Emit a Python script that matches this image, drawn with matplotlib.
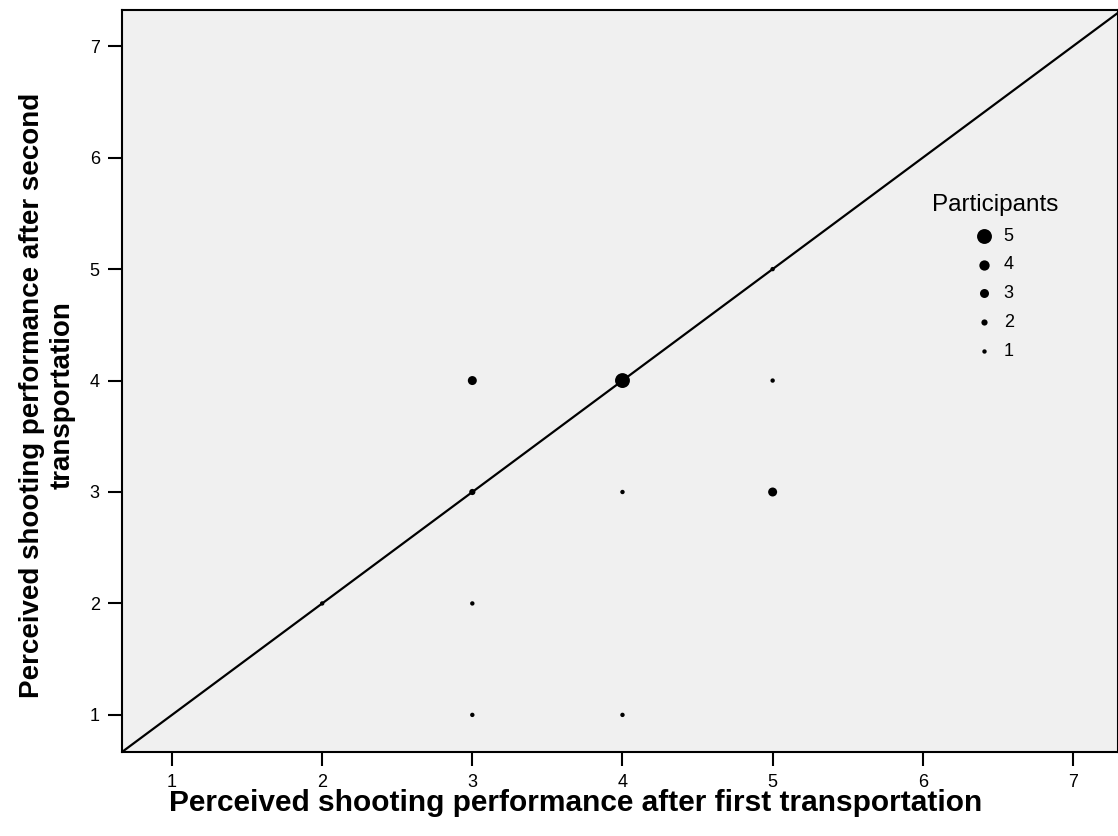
import matplotlib
matplotlib.use('Agg')
import matplotlib.pyplot as plt

plt.rcParams['font.family'] = ['Liberation Sans', 'DejaVu Sans']

# ratings after first / second transportation and number of participants at each
first = [2, 3, 3, 3, 3, 4, 4, 4, 5, 5, 5]
second = [2, 1, 2, 3, 4, 1, 3, 4, 3, 4, 5]
counts = [1, 1, 1, 2, 3, 1, 1, 5, 3, 1, 1]
legend_counts = [5, 4, 3, 2, 1]
ticks = [1, 2, 3, 4, 5, 6, 7]

xlabel = 'Perceived shooting performance after first transportation'
ylabel = 'Perceived shooting performance after second\ntransportation'

area = {1: 10, 2: 20, 3: 42, 4: 55, 5: 115}  # marker area per participant count

fig = plt.figure(figsize=(11.18, 8.36), dpi=100)
ax = fig.add_axes([122 / 1118, 1 - 752 / 836, 1 - 122 / 1118, (752 - 10) / 836])
ax.set_facecolor('#f0f0f0')

lo, hi = 0.667, 7.3
ax.plot([lo, 7.4], [lo, 7.4], c='k', lw=1.6, zorder=2)  # line of equality
ax.scatter(first, second, s=[area[c] for c in counts], c='k', linewidths=0, zorder=3)

ax.set_xlim(lo, hi)
ax.set_ylim(lo, 7.325)
ax.set_xticks(ticks)
ax.set_yticks(ticks)
ax.tick_params(direction='out', length=10, width=1.5, labelsize=13, pad=6)
for s in ax.spines.values():
    s.set_linewidth(1.5)

ax.set_xlabel(xlabel, fontsize=21.5, fontweight='bold')
ax.set_ylabel(ylabel, fontsize=20, fontweight='bold')
ax.xaxis.set_label_coords(0.455, -0.05)
ax.yaxis.set_label_coords(-0.047, 0.481)

handles = [ax.scatter([], [], s=area[n], c='k', linewidths=0, label=str(n)) for n in legend_counts]
leg = ax.legend(handles=handles, title='Participants', frameon=False, fontsize=13,
                title_fontsize=17.5, handlelength=0.8, handletextpad=0.7,
                labelspacing=0.65, loc='upper left', bbox_to_anchor=(0.797, 0.774))

fig.savefig('out.png', dpi=100)
